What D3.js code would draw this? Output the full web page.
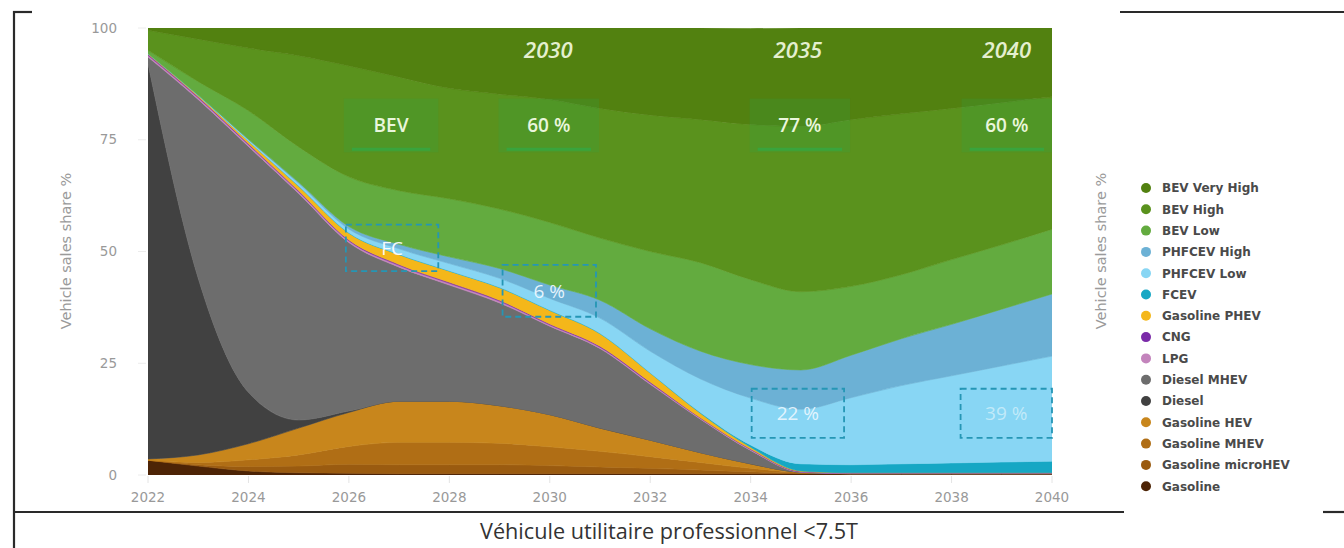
<!DOCTYPE html>
<html>
<head>
<meta charset="utf-8">
<script src="https://cdn.jsdelivr.net/npm/d3@7"></script>
<style>
  body { margin: 0; background: #fff; }
  svg { display: block; }
</style>
</head>
<body>
<script>
'use strict';

// x categories
const years = [2022, 2023, 2024, 2025, 2026, 2027, 2028, 2029, 2030, 2031,
               2032, 2033, 2034, 2035, 2036, 2037, 2038, 2039, 2040];

// series, bottom of the stack first
const seriesNames = ['Gasoline', 'Gasoline microHEV', 'Gasoline MHEV', 'Gasoline HEV',
  'Diesel', 'Diesel MHEV', 'LPG', 'CNG', 'Gasoline PHEV', 'FCEV',
  'PHFCEV Low', 'PHFCEV High', 'BEV Low', 'BEV High', 'BEV Very High'];

// vehicle sales share in % per year
const gasoline      = [3.3, 2.0, 0.9, 0.5, 0.4, 0.3, 0.3, 0.3, 0.3, 0.3, 0.3, 0.3, 0.3, 0.3, 0.3, 0.3, 0.3, 0.3, 0.3];
const gasMicroHev   = [0, 0.3, 1.0, 1.5, 2.0, 2.0, 2.0, 2.0, 1.8, 1.5, 1.2, 0.8, 0.4, 0.1, 0, 0, 0, 0, 0];
const gasMhev       = [0, 0.5, 1.5, 2.5, 4.0, 5.0, 5.0, 4.8, 4.2, 3.5, 2.6, 1.7, 0.8, 0.2, 0, 0, 0, 0, 0];
const gasHev        = [0.3, 1.7, 3.6, 6.0, 7.6, 9.2, 9.2, 8.4, 7.2, 5.2, 3.7, 2.2, 1.0, 0, 0, 0, 0, 0, 0];
const diesel        = [88.4, 39.5, 11.5, 1.8, 0.3, 0, 0, 0, 0, 0, 0, 0, 0, 0, 0, 0, 0, 0, 0];
const dieselMhev    = [1.5, 40, 55, 50.7, 37.7, 30, 26, 23, 19.8, 17.8, 12.5, 7.5, 3, 0, 0, 0, 0, 0, 0];
const lpg           = [0.4, 0.4, 0.4, 0.4, 0.4, 0.4, 0.4, 0.4, 0.3, 0.3, 0.3, 0.2, 0.2, 0.1, 0.1, 0.1, 0.1, 0.1, 0.1];
const cng           = [0.2, 0.2, 0.2, 0.2, 0.2, 0.2, 0.2, 0.2, 0.2, 0.2, 0.2, 0.1, 0.1, 0.1, 0.1, 0.1, 0.1, 0.1, 0.1];
const gasPhev       = [0.2, 0.3, 0.6, 1.0, 1.5, 2.2, 2.5, 2.8, 3.0, 2.8, 2.0, 1.0, 0.4, 0.1, 0, 0, 0, 0, 0];
const fcev          = [0, 0, 0, 0.1, 0.1, 0.1, 0.1, 0.1, 0.1, 0.1, 0.1, 0.2, 0.5, 1.6, 1.8, 2.0, 2.2, 2.4, 2.6];
const phfcevLow     = [0, 0.1, 0.3, 0.5, 0.8, 1.2, 1.6, 2.0, 2.6, 3.4, 4.8, 7.5, 10.5, 12.2, 15.0, 17.5, 19.5, 21.5, 23.5];
const phfcevHigh    = [0, 0, 0.1, 0.3, 0.6, 1.0, 1.5, 2.2, 3.0, 4.0, 5.0, 6.2, 7.5, 8.8, 9.5, 10.5, 11.5, 12.7, 13.9];
const bevLow        = [0.7, 3.0, 6.4, 7.9, 11.1, 12.0, 13.0, 13.3, 14.0, 13.9, 17.3, 19.8, 19.0, 17.5, 15.4, 14.3, 14.5, 14.4, 14.5];
const bevHigh       = [4.5, 9.5, 14.0, 20.4, 24.8, 25.4, 24.7, 25.7, 27.5, 29.0, 30.5, 32.0, 34.7, 37.0, 37.3, 36.0, 33.8, 31.8, 29.6];
const bevVeryHigh   = [0.5, 2.5, 4.5, 6.2, 8.5, 11, 13.5, 14.8, 16, 18, 19.5, 20.5, 21.5, 22, 20.5, 19.2, 18, 16.7, 15.4];

// axis ticks
const xTicks = [2022, 2024, 2026, 2028, 2030, 2032, 2034, 2036, 2038, 2040];
const yTicks = [0, 25, 50, 75, 100];

// notes written on the chart
const yearNotes = ['2030', '2035', '2040'];
const bevNotes = ['BEV', '60 %', '77 %', '60 %'];
const fcNotes = ['FC', '6 %', '22 %', '39 %'];

const chartTitle = 'Véhicule utilitaire professionnel <7.5T';
const axisTitle = 'Vehicle sales share %';

(function() {

  const msm = {
    width: 1344,
    height: 548,
    left: 148,
    right: 1052,
    top: 28,
    bottom: 475
  };

  const colors = {
    'Gasoline': '#4d2406',
    'Gasoline microHEV': '#9a5b10',
    'Gasoline MHEV': '#b06e15',
    'Gasoline HEV': '#c8861c',
    'Diesel': '#414141',
    'Diesel MHEV': '#6d6d6d',
    'LPG': '#c384bc',
    'CNG': '#7a2aa8',
    'Gasoline PHEV': '#f4b71a',
    'FCEV': '#16a7c4',
    'PHFCEV Low': '#88d6f4',
    'PHFCEV High': '#6cb1d5',
    'BEV Low': '#63ab3f',
    'BEV High': '#5a921d',
    'BEV Very High': '#528110'
  };

  const seriesValues = [gasoline, gasMicroHev, gasMhev, gasHev, diesel, dieselMhev,
    lpg, cng, gasPhev, fcev, phfcevLow, phfcevHigh, bevLow, bevHigh, bevVeryHigh];

  window.onload = function() {
    let svg = d3.select('body').append('svg')
      .attr('width', msm.width)
      .attr('height', msm.height);

    // one row per year for d3.stack
    let table = years.map((y, i) => {
      let row = { year: y };
      seriesNames.forEach((name, k) => { row[name] = seriesValues[k][i]; });
      return row;
    });

    let xScale = d3.scaleLinear().domain([2022, 2040]).range([msm.left, msm.right]);
    let yScale = d3.scaleLinear().domain([0, 100]).range([msm.bottom, msm.top]);

    drawFrame(svg);
    drawAreas(svg, table, xScale, yScale, colors);
    drawAxes(svg, xScale, yScale);
    drawNotes(svg, xScale, yScale);
    drawLegend(svg, colors);
  };

  // stacked areas
  function drawAreas(svg, table, xScale, yScale, colors) {
    let stack = d3.stack().keys(seriesNames);
    let layers = stack(table);

    svg.append('clipPath').attr('id', 'plotClip')
      .append('rect')
      .attr('x', msm.left).attr('y', msm.top)
      .attr('width', msm.right - msm.left)
      .attr('height', msm.bottom - msm.top);

    let area = d3.area()
      .x(d => xScale(d.data.year))
      .y0(d => yScale(d[0]))
      .y1(d => yScale(d[1]))
      .curve(d3.curveMonotoneX);

    svg.append('g')
      .attr('clip-path', 'url(#plotClip)')
      .selectAll('path')
      .data(layers)
      .enter()
      .append('path')
        .attr('d', area)
        .attr('fill', d => colors[d.key])
        .attr('stroke', d => colors[d.key])
        .attr('stroke-width', 0.6);
  }

  // tick labels and axis titles
  function drawAxes(svg, xScale, yScale) {
    let g = svg.append('g')
      .style('font-family', '"DejaVu Sans", sans-serif')
      .style('font-size', '13.5px')
      .attr('fill', '#999');

    g.selectAll('.ytick').data(yTicks).enter().append('text')
      .attr('x', 117)
      .attr('y', d => yScale(d))
      .attr('dy', '0.35em')
      .attr('text-anchor', 'end')
      .text(d => d);

    g.selectAll('.ytickmark').data(yTicks).enter().append('line')
      .attr('x1', 138).attr('x2', 146)
      .attr('y1', d => yScale(d)).attr('y2', d => yScale(d))
      .attr('stroke', '#ececec');

    g.selectAll('.xtick').data(xTicks).enter().append('text')
      .attr('x', d => xScale(d))
      .attr('y', 502)
      .attr('text-anchor', 'middle')
      .text(d => d);

    g.selectAll('.xtickmark').data(xTicks).enter().append('line')
      .attr('x1', d => xScale(d)).attr('x2', d => xScale(d))
      .attr('y1', msm.bottom + 1).attr('y2', msm.bottom + 8)
      .attr('stroke', '#e4e4e4');

    // same axis title on both sides
    [66, 1101].forEach(x => {
      svg.append('text')
        .attr('transform', 'translate(' + x + ',251) rotate(-90)')
        .attr('text-anchor', 'middle')
        .attr('dy', '0.35em')
        .style('font-family', '"DejaVu Sans", sans-serif')
        .style('font-size', '14.5px')
        .attr('fill', '#9a9a9a')
        .text(axisTitle);
    });
  }

  // boxes and labels drawn over the areas
  function drawNotes(svg, xScale, yScale) {
    let g = svg.append('g').style('font-family', '"Open Sans", sans-serif');

    // italic years along the top
    let yearAt = [2029.97, 2034.94, 2039.1];
    g.selectAll('.yearNote').data(yearNotes).enter().append('text')
      .attr('x', (d, i) => xScale(yearAt[i]))
      .attr('y', yScale(93.2))
      .attr('text-anchor', 'middle')
      .style('font-size', '22px')
      .style('font-style', 'italic')
      .style('font-weight', '600')
      .attr('fill', '#e4efcf')
      .text(d => d);

    // green boxes with the BEV share
    let bevBoxes = [[2025.9, 2027.78], [2028.98, 2030.98], [2033.98, 2035.98], [2038.2, 2040]];
    bevBoxes.forEach((b, i) => {
      let x0 = xScale(b[0]), x1 = xScale(b[1]);
      let y0 = yScale(84.2), y1 = yScale(72.2);
      g.append('rect')
        .attr('x', x0).attr('y', y0)
        .attr('width', x1 - x0).attr('height', y1 - y0)
        .attr('fill', '#2fa24a')
        .attr('fill-opacity', 0.22);
      g.append('line')
        .attr('x1', x0 + 8).attr('x2', x1 - 8)
        .attr('y1', y1 - 3).attr('y2', y1 - 3)
        .attr('stroke', '#2aae4c')
        .attr('stroke-opacity', 0.6)
        .attr('stroke-width', 3);
      g.append('text')
        .attr('x', (x0 + x1) / 2)
        .attr('y', (y0 + y1) / 2)
        .attr('dy', '0.36em')
        .attr('text-anchor', 'middle')
        .style('font-size', '19px')
        .style('font-weight', '600')
        .attr('fill', '#eaf6dc')
        .text(bevNotes[i]);
    });

    // dashed boxes for the fuel cell share
    let fcBoxes = [
      { x: [2025.94, 2027.78], y: [56.0, 45.6], fill: '#ffffff', op: 0.95 },
      { x: [2029.06, 2030.92], y: [47.0, 35.4], fill: '#eef8ff', op: 0.95 },
      { x: [2034.02, 2035.86], y: [19.3, 8.3], fill: '#eef8ff', op: 0.9 },
      { x: [2038.18, 2040], y: [19.3, 8.3], fill: '#cdeefa', op: 0.85 }
    ];
    fcBoxes.forEach((b, i) => {
      let x0 = xScale(b.x[0]), x1 = xScale(b.x[1]);
      let y0 = yScale(b.y[0]), y1 = yScale(b.y[1]);
      g.append('rect')
        .attr('x', x0).attr('y', y0)
        .attr('width', x1 - x0).attr('height', y1 - y0)
        .attr('fill', 'none')
        .attr('stroke', '#2596b5')
        .attr('stroke-width', 1.8)
        .attr('stroke-dasharray', '6,4');
      g.append('text')
        .attr('x', (x0 + x1) / 2)
        .attr('y', (y0 + y1) / 2)
        .attr('dy', '0.36em')
        .attr('text-anchor', 'middle')
        .style('font-size', '19px')
        .attr('fill', b.fill)
        .attr('fill-opacity', b.op)
        .text(fcNotes[i]);
    });
  }

  // legend on the right, top of the stack first
  function drawLegend(svg, colors) {
    let names = seriesNames.slice().reverse();
    let g = svg.append('g')
      .style('font-family', '"DejaVu Sans", sans-serif')
      .style('font-size', '12px')
      .style('font-weight', 'bold');

    let rows = g.selectAll('.item').data(names).enter().append('g')
      .attr('transform', (d, i) => 'translate(1146,' + (188 + i * 21.3) + ')');
    rows.append('circle')
      .attr('r', 5)
      .attr('fill', d => colors[d]);
    rows.append('text')
      .attr('x', 16)
      .attr('dy', '0.36em')
      .attr('fill', '#4a4a4a')
      .text(d => d);
  }

  // page frame lines and title
  function drawFrame(svg) {
    let g = svg.append('g').attr('stroke', '#2a2a2a').attr('stroke-width', 2.2);
    g.append('line').attr('x1', 14).attr('x2', 14).attr('y1', 11).attr('y2', 548);
    g.append('line').attr('x1', 13).attr('x2', 32).attr('y1', 12).attr('y2', 12);
    g.append('line').attr('x1', 1120).attr('x2', 1344).attr('y1', 12).attr('y2', 12);
    g.append('line').attr('x1', 14).attr('x2', 1124).attr('y1', 512).attr('y2', 512);
    g.append('line').attr('x1', 1323).attr('x2', 1344).attr('y1', 512).attr('y2', 512);

    svg.append('text')
      .attr('x', 669)
      .attr('y', 539)
      .attr('text-anchor', 'middle')
      .attr('textLength', 378)
      .attr('lengthAdjust', 'spacingAndGlyphs')
      .style('font-family', '"Open Sans", sans-serif')
      .style('font-size', '22px')
      .attr('fill', '#333')
      .text(chartTitle);
  }

})();
</script>
</body>
</html>
